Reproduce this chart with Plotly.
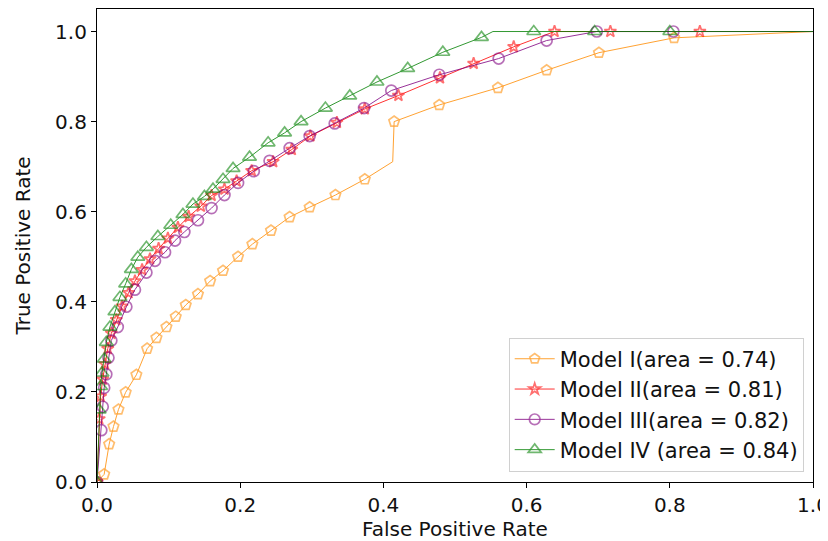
import plotly.graph_objects as go

# ---- data ----
fpr_m1 = [0.0, 0.010, 0.017, 0.023, 0.030, 0.040, 0.055, 0.070, 0.083, 0.097, 0.110, 0.124, 0.141,
          0.158, 0.176, 0.197, 0.217, 0.243, 0.269, 0.297, 0.333, 0.374, 0.413, 0.415, 0.478,
          0.560, 0.628, 0.701, 0.806, 1.0]
tpr_m1 = [0.0, 0.017, 0.084, 0.123, 0.161, 0.199, 0.238, 0.296, 0.320, 0.344, 0.367, 0.393, 0.417,
          0.446, 0.469, 0.500, 0.528, 0.558, 0.588, 0.610, 0.637, 0.672, 0.711, 0.800, 0.837,
          0.875, 0.914, 0.953, 0.986, 1.0]
mark_m1 = [1] * 22 + [0] + [1] * 6 + [0]

fpr_m2 = [0.0, 0.003, 0.005, 0.008, 0.011, 0.015, 0.020, 0.027, 0.035, 0.044, 0.053, 0.063, 0.074,
          0.086, 0.099, 0.113, 0.128, 0.145, 0.160, 0.178, 0.195, 0.216, 0.246, 0.272, 0.298,
          0.335, 0.374, 0.421, 0.479, 0.526, 0.582, 0.639, 0.717, 0.842, 1.0]
tpr_m2 = [0.0, 0.140, 0.190, 0.228, 0.262, 0.296, 0.330, 0.360, 0.390, 0.420, 0.446, 0.471, 0.495,
          0.518, 0.541, 0.565, 0.589, 0.612, 0.636, 0.650, 0.668, 0.691, 0.711, 0.738, 0.768,
          0.798, 0.828, 0.858, 0.897, 0.929, 0.966, 1.0, 1.0, 1.0, 1.0]
mark_m2 = [1] * 34 + [0]

fpr_m3 = [0.0, 0.006, 0.008, 0.010, 0.013, 0.016, 0.020, 0.029, 0.041, 0.053, 0.069, 0.081, 0.095,
          0.109, 0.122, 0.141, 0.160, 0.178, 0.197, 0.219, 0.241, 0.269, 0.297, 0.332, 0.373,
          0.411, 0.478, 0.561, 0.628, 0.698, 0.805, 1.0]
tpr_m3 = [0.0, 0.115, 0.167, 0.209, 0.239, 0.276, 0.314, 0.344, 0.389, 0.427, 0.465, 0.491, 0.510,
          0.536, 0.555, 0.581, 0.608, 0.637, 0.664, 0.690, 0.713, 0.741, 0.768, 0.796, 0.830,
          0.869, 0.904, 0.940, 0.980, 1.0, 1.0, 1.0]
mark_m3 = [1] * 31 + [0]

fpr_m4 = [0.0, 0.003, 0.005, 0.007, 0.010, 0.013, 0.018, 0.025, 0.032, 0.040, 0.048, 0.057, 0.069,
          0.085, 0.103, 0.120, 0.134, 0.150, 0.162, 0.176, 0.190, 0.213, 0.239, 0.262, 0.285,
          0.319, 0.353, 0.391, 0.434, 0.483, 0.537, 0.553, 0.610, 0.695, 0.800, 1.0]
tpr_m4 = [0.0, 0.160, 0.212, 0.242, 0.273, 0.310, 0.344, 0.378, 0.410, 0.440, 0.472, 0.499, 0.521,
          0.545, 0.570, 0.594, 0.617, 0.634, 0.650, 0.672, 0.696, 0.721, 0.753, 0.775, 0.800,
          0.830, 0.857, 0.888, 0.918, 0.954, 0.987, 1.0, 1.0, 1.0, 1.0, 1.0]
mark_m4 = [1] * 31 + [0] + [1] * 3 + [0]

names = ["Model I(area = 0.74)", "Model II(area = 0.81)",
         "Model III(area = 0.82)", "Model IV (area = 0.84)"]
tick_vals = [0.0, 0.2, 0.4, 0.6, 0.8, 1.0]
tick_text = ["0.0", "0.2", "0.4", "0.6", "0.8", "1.0"]

# ---- styles ----
series = [
    (fpr_m1, tpr_m1, mark_m1, "#ff8c00", "pentagon-open", 11),
    (fpr_m2, tpr_m2, mark_m2, "#ff0000", "star-open", 9),
    (fpr_m3, tpr_m3, mark_m3, "#800080", "circle-open", 11),
    (fpr_m4, tpr_m4, mark_m4, "#008000", "triangle-up-open", 12),
]

FONT = "DejaVu Sans"
fig = go.Figure()
for (xs, ys, mk, col, sym, sz), name in zip(series, names):
    sizes = [sz if m else 0 for m in mk]
    fig.add_trace(go.Scatter(
        x=xs, y=ys, mode="lines+markers", name=name,
        line=dict(color=col, width=1),
        opacity=0.8,
        marker=dict(symbol=sym, size=sizes, color=col, line=dict(width=1.7, color=col)),
    ))

axis_common = dict(
    showgrid=False, zeroline=False, showline=True, linecolor="black", linewidth=1.2,
    mirror=True, ticks="outside", ticklen=5, tickwidth=1, tickcolor="black",
    tickfont=dict(size=20, color="#111111", family=FONT),
    tickvals=tick_vals, ticktext=tick_text, automargin=False,
    ticklabeloverflow="allow",
)
fig.update_xaxes(range=[0, 1], title=dict(text="False Positive Rate", standoff=8,
                 font=dict(size=20, color="#111111", family=FONT)), **axis_common)
fig.update_yaxes(range=[0, 1.05], title=dict(text="True Positive Rate", standoff=19,
                 font=dict(size=20, color="#111111", family=FONT)), **axis_common)

# the page body adds an 8px offset, so the figure is sized/margined to compensate
fig.update_layout(
    width=820, height=533,
    margin=dict(l=89, r=15, t=1, b=59),
    paper_bgcolor="white", plot_bgcolor="white",
    font=dict(family=FONT, color="#111111"),
    legend=dict(x=0.987, y=0.022, xanchor="right", yanchor="bottom",
                bgcolor="rgba(255,255,255,0.8)", bordercolor="#d0d0d0", borderwidth=1,
                font=dict(size=21, color="#111111", family=FONT),
                itemwidth=40, tracegroupgap=0),
)

fig.write_html("out.html")
